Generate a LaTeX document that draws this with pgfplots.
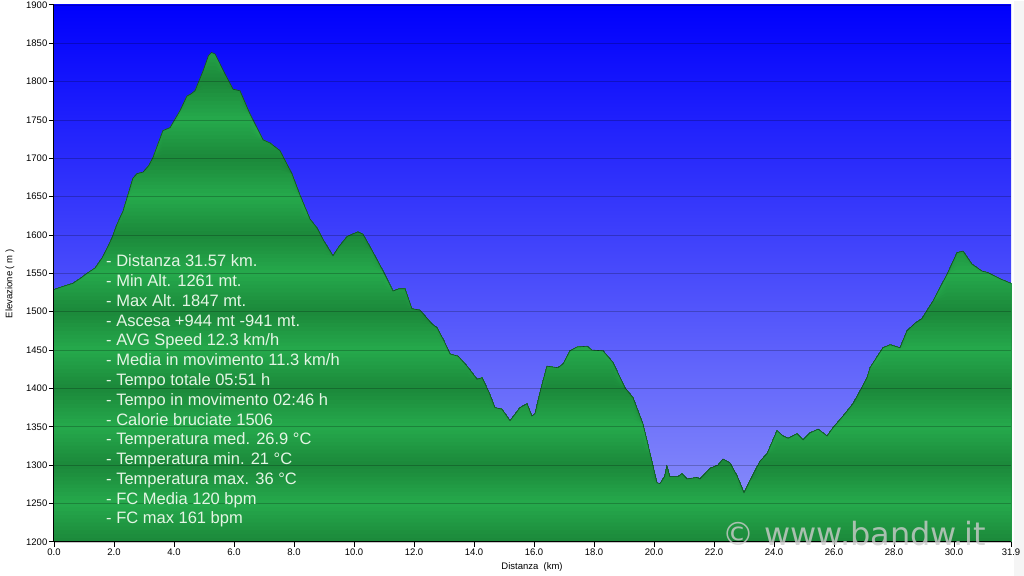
\documentclass[border=0pt]{standalone}
\usepackage{pgfplots}
\pgfplotsset{compat=1.18}
\usepackage{pgfplotstable}
\usepackage{fontspec}
\setmainfont{Liberation Sans}
\newfontfamily\wmfont{DejaVu Sans}
\definecolor{gl}{RGB}{38,170,76}
\definecolor{gd}{RGB}{27,136,58}
\definecolor{bgtop}{RGB}{0,0,252}
\definecolor{bgbot}{RGB}{145,150,250}
\definecolor{txt}{RGB}{228,245,228}
\definecolor{edge}{RGB}{20,70,40}

\pgfplotstableread{
km elev
0.0 1529
0.3 1533
0.63 1537
0.9 1544
1.1 1550
1.37 1557
1.6 1570
1.77 1583
1.93 1596
2.1 1614
2.3 1631
2.47 1653
2.63 1674
2.77 1680
2.97 1682
3.15 1690
3.3 1701
3.63 1736
3.87 1740
4.2 1762
4.43 1781
4.57 1784
4.7 1788
4.97 1814
5.15 1834
5.25 1838
5.37 1836
5.7 1810
5.97 1790
6.2 1788
6.53 1758
6.97 1724
7.2 1720
7.53 1710
7.93 1680
8.2 1652
8.53 1621
8.77 1609
9.0 1592
9.3 1573
9.5 1585
9.77 1598
10.0 1602
10.13 1604
10.3 1601
10.6 1580
10.97 1553
11.3 1527
11.5 1530
11.7 1530
11.93 1504
12.2 1502
12.6 1484
12.77 1479
13.0 1462
13.2 1445
13.47 1442
13.77 1429
14.1 1412
14.27 1414
14.5 1395
14.7 1375
14.93 1373
15.2 1358
15.4 1368
15.53 1375
15.77 1380
15.93 1364
16.03 1367
16.2 1395
16.43 1429
16.8 1427
16.97 1432
17.2 1449
17.43 1454
17.77 1455
17.93 1450
18.3 1449
18.63 1434
19.03 1401
19.3 1388
19.63 1354
19.87 1315
20.1 1277
20.2 1276
20.35 1285
20.43 1299
20.53 1285
20.8 1285
20.93 1289
21.1 1282
21.43 1284
21.53 1282
21.87 1296
22.13 1300
22.3 1308
22.53 1303
22.77 1286
23.0 1264
23.2 1280
23.53 1305
23.77 1315
24.1 1345
24.3 1338
24.47 1335
24.77 1341
24.97 1333
25.2 1342
25.47 1347
25.77 1338
25.97 1349
26.3 1364
26.63 1380
26.87 1397
27.1 1414
27.2 1427
27.63 1453
27.87 1457
28.2 1453
28.43 1475
28.7 1485
28.93 1491
29.3 1514
29.77 1549
30.1 1577
30.3 1579
30.6 1562
30.93 1553
31.13 1551
31.53 1543
31.9 1537
}\profile

\begin{document}
\begin{tikzpicture}
\fill[gray!8] (1014pt,0pt) rectangle (1024pt,575pt);
\path (0pt,0pt) rectangle (1024pt,575pt);
\begin{axis}[
  at={(54pt,34pt)}, anchor=south west,
  scale only axis, width=957pt, height=537pt,
  xmin=0, xmax=31.9, ymin=1200, ymax=1900,
  axis x line*=bottom, axis y line*=left,
  axis line style={black, line width=1pt},
  axis on top,
  axis background/.style={top color=bgtop, bottom color=bgbot},
  tick align=outside, major tick length=5pt,
  tick style={black, line width=0.8pt},
  xtick={0,2,...,30,31.9},
  ytick={1200,1250,...,1900},
  ymajorgrids,
  grid style={black, opacity=0.22, line width=0.6pt},
  /pgf/number format/assume math mode=true,
  tick label style={font=\fontsize{9.5}{10}\selectfont, inner sep=1.5pt},
  x tick label style={/pgf/number format/.cd, fixed, fixed zerofill, precision=1, /tikz/.cd},
  y tick label style={/pgf/number format/.cd, 1000 sep={}, /tikz/.cd},
]
\addplot[draw=none, fill=gd!40!gl] table[x=km, y=elev] {\profile} \closedcycle;
\pgfplotsforeachungrouped \k in {1,...,127}{%
  \pgfmathtruncatemacro\hi{1840-5*\k}%
  \pgfmathtruncatemacro\p{abs(mod(\hi-1200-2.5,100)-50)*2}%
  \edef\temp{\noexpand\addplot[draw=none, fill=gd!\p!gl] table[x=km, y expr={min(\noexpand\thisrow{elev},\hi)}] {\noexpand\profile} \noexpand\closedcycle;}%
  \temp
}
\addplot[edge, line width=0.6pt] table[x=km, y=elev] {\profile};
\end{axis}
\node[font=\fontsize{9.5}{10}\selectfont] at (532pt,9pt) {Distanza\ \ (km)};
\node[font=\fontsize{9.5}{10}\selectfont, rotate=90] at (10pt,292pt) {Elevazione ( m )};
\begin{scope}[every node/.style={anchor=base west, inner sep=0pt, text=txt, font=\fontsize{16.5}{18}\selectfont}]
\node at (106pt,309.00pt) {- Distanza 31.57 km.};
\node at (106pt,289.23pt) {- Min Alt. 1261 mt.};
\node at (106pt,269.46pt) {- Max Alt. 1847 mt.};
\node at (106pt,249.69pt) {- Ascesa +944 mt -941 mt.};
\node at (106pt,229.92pt) {- AVG Speed 12.3 km/h};
\node at (106pt,210.15pt) {- Media in movimento 11.3 km/h};
\node at (106pt,190.38pt) {- Tempo totale 05:51 h};
\node at (106pt,170.61pt) {- Tempo in movimento 02:46 h};
\node at (106pt,150.84pt) {- Calorie bruciate 1506};
\node at (106pt,131.07pt) {- Temperatura med. 26.9 °C};
\node at (106pt,111.30pt) {- Temperatura min. 21 °C};
\node at (106pt,91.53pt) {- Temperatura max. 36 °C};
\node at (106pt,71.76pt) {- FC Media 120 bpm};
\node at (106pt,51.99pt) {- FC max 161 bpm};
\end{scope}
\node[anchor=base west, inner sep=0pt, font=\wmfont\fontsize{32}{34}\selectfont, text=gray!40, opacity=0.8] at (722pt,30pt) {© www.bandw.it};
\end{tikzpicture}
\end{document}
